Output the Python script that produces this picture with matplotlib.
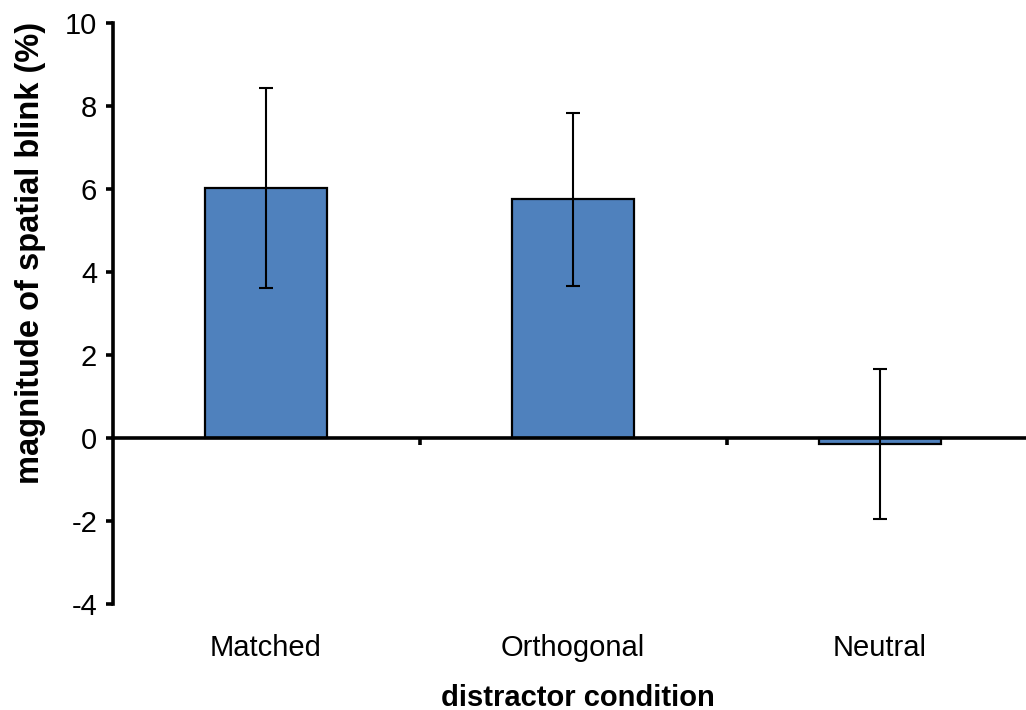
import numpy as np
import matplotlib.pyplot as plt
from matplotlib import transforms

plt.rcParams['font.family'] = ['Liberation Sans', 'DejaVu Sans']

conditions = ['Matched', 'Orthogonal', 'Neutral']
blink = [6.04, 5.76, -0.14]
err = [2.41, 2.08, 1.81]
yticks = [-4, -2, 0, 2, 4, 6, 8, 10]

fig = plt.figure(figsize=(10.26, 7.10), dpi=100)
# axes box in pixels: left 112, right past the image edge, top 23, bottom 604
ax = fig.add_axes([112.5/1026, 1-604.3/710, (1026-112.5)/1026, (604.3-23.3)/710])

x = np.arange(len(conditions))
ax.bar(x, blink, width=0.4, color='#4F81BD', edgecolor='black', linewidth=1.6, zorder=2)
ax.errorbar(x, blink, yerr=err, fmt='none', ecolor='black', elinewidth=1.5,
            capsize=5, capthick=1.5, zorder=3)

ax.set_xlim(-0.5, -0.5 + (1026-112.5)/307)
ax.set_ylim(-4, 10)
ax.set_yticks(yticks)
ax.set_yticklabels([str(t) for t in yticks])

for s in ['top', 'right']:
    ax.spines[s].set_visible(False)
ax.spines['bottom'].set_position(('data', 0))
ax.spines['bottom'].set_linewidth(2.6)
ax.spines['left'].set_linewidth(2.6)
ax.spines['bottom'].set_zorder(4)

ax.set_xticks([0.5, 1.5])
ax.set_xticklabels([])
ax.tick_params(axis='x', direction='out', length=5, width=2.6)
ax.tick_params(axis='y', direction='out', length=5, width=2.6, labelsize=21, pad=6)

trans = transforms.blended_transform_factory(ax.transData, ax.transAxes)
for xi, name in zip(x, conditions):
    ax.text(xi, -0.075, name, transform=trans, ha='center', va='center', fontsize=21)

fig.text(578/1026, 1-698/710, 'distractor condition', ha='center', va='center',
         fontsize=21, fontweight='bold')
fig.text(31/1026, 1-253/710, 'magnitude of spatial blink (%)', ha='center', va='center',
         rotation=90, fontsize=23.5, fontweight='bold')

fig.savefig('out.png', dpi=100)
